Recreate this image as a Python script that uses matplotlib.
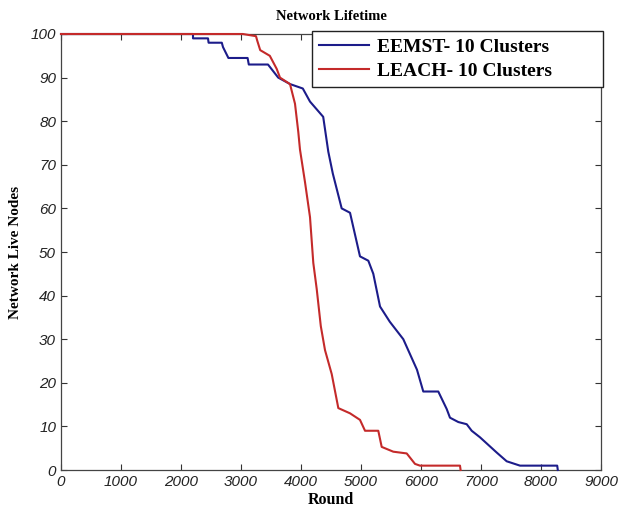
import matplotlib
matplotlib.use("Agg")
import matplotlib.pyplot as plt

# (round, live nodes)
eemst_rounds = [0, 2200, 2200, 2450, 2460, 2680, 2700, 2790, 3110, 3130, 3450, 3620,
                3820, 4030, 4150, 4370, 4455, 4530, 4678, 4817, 4983, 5122, 5205,
                5317, 5480, 5705, 5933, 6038, 6288, 6428, 6483, 6622, 6762, 6845,
                6983, 7262, 7428, 7650, 8270, 8280]
eemst_nodes = [100, 100, 99, 99, 98, 98, 97, 94.5, 94.5, 93, 93, 90,
               88.5, 87.5, 84.5, 81, 73, 68, 60, 59, 49, 48, 45,
               37.5, 34, 30, 23, 18, 18, 14, 12, 11, 10.5, 9,
               7.5, 4, 2, 1, 1, 0]

leach_rounds = [0, 3030, 3250, 3270, 3320, 3480, 3595, 3650, 3817, 3900, 3955, 3983,
                4067, 4150, 4205, 4262, 4330, 4400, 4512, 4622, 4817, 4983, 5067,
                5288, 5345, 5538, 5762, 5900, 5983, 6650, 6660]
leach_nodes = [100, 100, 99.5, 98.5, 96.3, 95, 92, 90, 88.5, 84, 77.5, 73.5,
               66, 58, 47.5, 41.5, 33, 27.5, 22, 14.2, 13, 11.5, 9,
               9, 5.3, 4.2, 3.8, 1.4, 1, 1, 0]

x_ticks = list(range(0, 9001, 1000))
y_ticks = list(range(0, 101, 10))

serif = "Liberation Serif"
sans = "Liberation Sans"

fig = plt.figure(figsize=(6.18, 5.2), dpi=100)
ax = fig.add_axes([61 / 618, 1 - 470 / 520, 540 / 618, 436 / 520])

ax.plot(eemst_rounds, eemst_nodes, color="#1c1c8a", linewidth=1.5,
        label="EEMST- 10 Clusters", zorder=3, clip_on=False)
ax.plot(leach_rounds, leach_nodes, color="#c42a2a", linewidth=1.5,
        label="LEACH- 10 Clusters", zorder=3, clip_on=False)

ax.set_xlim(0, 9000)
ax.set_ylim(0, 100)
ax.set_xticks(x_ticks)
ax.set_yticks(y_ticks)
ax.tick_params(direction="in", length=4, top=True, right=True, color="#333333")
for lab in ax.get_xticklabels() + ax.get_yticklabels():
    lab.set_family(sans)
    lab.set_style("italic")
    lab.set_fontsize(11)
    lab.set_color("#222222")
for sp in ax.spines.values():
    sp.set_color("#444444")
    sp.set_linewidth(0.9)

ax.set_title("Network Lifetime", fontfamily=serif, fontweight="bold",
             fontsize=10.5, pad=10)
ax.set_xlabel("Round", fontfamily=serif, fontweight="bold", fontsize=11.5,
              labelpad=2)
ax.set_ylabel("Network Live Nodes", fontfamily=serif, fontweight="bold",
              fontsize=11, labelpad=6)

leg = ax.legend(loc="upper left", bbox_to_anchor=(0.465, 0.0, 0.539, 1.006),
                mode="expand", borderaxespad=0, fancybox=False,
                prop={"family": serif, "weight": "bold", "size": 14},
                handlelength=2.6, handletextpad=0.4, labelspacing=0.35,
                borderpad=0.35, framealpha=1)
leg.get_frame().set_edgecolor("#222222")
leg.get_frame().set_linewidth(1.0)
leg.set_zorder(5)

plt.savefig("out.png", dpi=100)
